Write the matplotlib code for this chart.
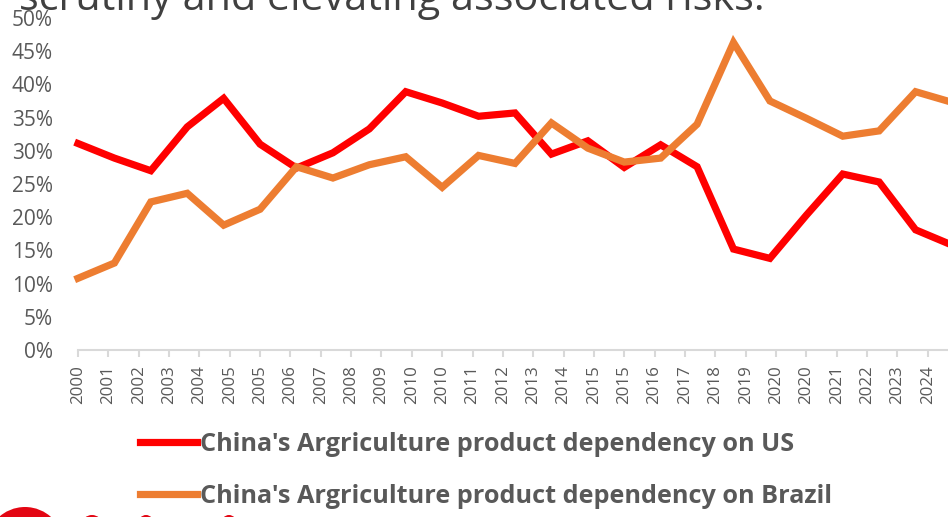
import numpy as np
import matplotlib
matplotlib.use("Agg")
import matplotlib.pyplot as plt
from matplotlib.lines import Line2D
from matplotlib.patches import Ellipse

# yearly values, 2000..2024 (share of China's agri imports)
years = list(range(2000, 2025))
us_dep = [31.1, 28.9, 27.0, 33.6, 37.9, 31.0, 27.4, 29.7, 33.3, 38.9, 37.2, 35.2, 35.7,
          29.5, 31.5, 27.5, 30.9, 27.6, 15.2, 13.8, 20.3, 26.5, 25.3, 18.1, 15.8]
brazil_dep = [10.8, 13.1, 22.3, 23.6, 18.8, 21.2, 27.6, 25.9, 27.9, 29.1, 24.5, 29.3, 28.1,
              34.2, 30.4, 28.3, 28.9, 34.0, 46.3, 37.5, 34.9, 32.2, 33.0, 38.9, 37.3]

# date-axis labels as shown (one every 10 months)
tick_labels = ["2000", "2001", "2002", "2003", "2004", "2005", "2005", "2006", "2007", "2008",
               "2009", "2010", "2010", "2011", "2012", "2013", "2014", "2015", "2015", "2016",
               "2017", "2018", "2019", "2020", "2020", "2021", "2022", "2023", "2024"]

RED = "#FF0000"
ORANGE = "#ED7D31"
GREY = "#595959"

W, H = 948, 517
fig = plt.figure(figsize=(W / 100, H / 100), dpi=100)
plt.rcParams["font.family"] = ["Open Sans", "DejaVu Sans"]

ax = fig.add_axes([78 / W, 1 - 350 / H, (952 - 78) / W, (350 - 18) / H])
x = np.arange(len(years))
ax.plot(x, np.array(us_dep) / 100, color=RED, lw=5.2, solid_joinstyle="miter", clip_on=False)
ax.plot(x, np.array(brazil_dep) / 100, color=ORANGE, lw=5.2, solid_joinstyle="miter", clip_on=False)

ax.set_xlim(0, len(years) - 1)
ax.set_ylim(0, 0.5)
ax.set_yticks(np.arange(0, 0.51, 0.05))
ax.set_yticklabels([f"{int(round(v * 100))}%" for v in np.arange(0, 0.51, 0.05)])
ax.set_xticks(np.arange(len(tick_labels)) * 10 / 12)
ax.set_xticklabels(tick_labels, rotation=90)

for s in ["top", "right", "left"]:
    ax.spines[s].set_visible(False)
ax.spines["bottom"].set_color("#D9D9D9")
ax.spines["bottom"].set_linewidth(1.5)
ax.tick_params(axis="y", length=0, labelsize=15, labelcolor=GREY, pad=18)
ax.tick_params(axis="x", length=5, width=1.5, color="#D9D9D9", labelsize=12.2,
               labelcolor=GREY, pad=6)

# cut-off title line from the slide
fig.text(19 / W, 1 - 10 / H, "scrutiny and elevating associated risks.", fontsize=29.8,
         color="#404040", va="baseline", ha="left")

handles = [Line2D([], [], color=RED, lw=5.2), Line2D([], [], color=ORANGE, lw=5.2)]
labels = ["China's Argriculture product dependency on US",
          "China's Argriculture product dependency on Brazil"]
leg = fig.legend(handles, labels, loc="upper left", bbox_to_anchor=(140 / W, 1 - 432 / H),
                 frameon=False, fontsize=18.2, handlelength=2.25, handletextpad=0.12,
                 labelspacing=1.05, borderaxespad=0, borderpad=0)
for t in leg.get_texts():
    t.set_color(GREY)
    t.set_fontweight("bold")

# logo remnant bottom-left
def px_ellipse(cx, cy, w, h):
    return Ellipse((cx / W, 1 - cy / H), w / W, h / H, transform=fig.transFigure,
                   color="#E30613", lw=0)

for cx, cy, w, h in [(25, 546, 78, 78), (92, 524, 20, 18), (146, 524, 16, 18), (229, 524, 16, 18)]:
    fig.patches.append(px_ellipse(cx, cy, w, h))

fig.savefig("out.png", dpi=100)
